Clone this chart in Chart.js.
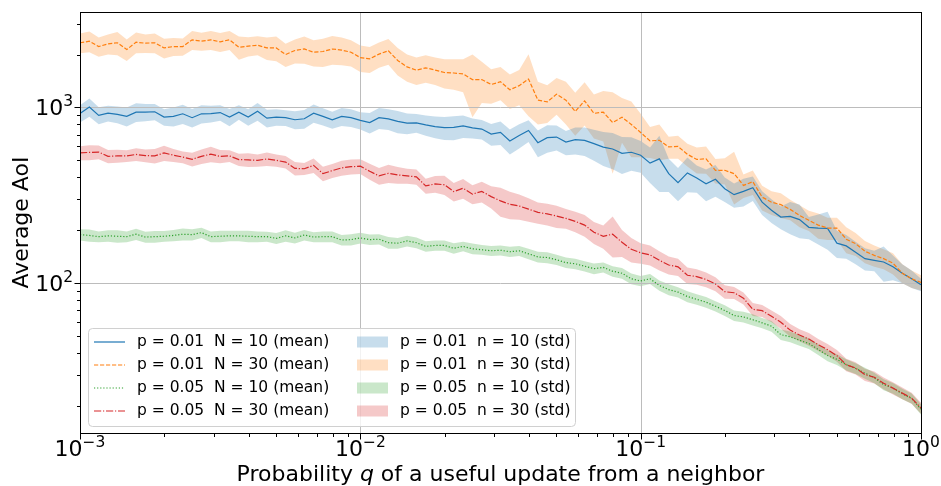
<!DOCTYPE html>
<html>
<head>
<meta charset="utf-8">
<script src="https://cdn.jsdelivr.net/npm/chart.js@4.4.1/dist/chart.umd.min.js"></script>
<style>
  html, body { margin: 0; padding: 0; background: #fff; }
  canvas { display: block; }
</style>
</head>
<body>
<canvas id="aoi" width="941" height="486"></canvas>
<script>
// q values (log spaced, 30 per decade)
var q = [
  0.001, 0.00108, 0.001166, 0.001259, 0.001359, 0.001468, 0.001585, 0.001711, 0.001848, 0.001995,
  0.002154, 0.002326, 0.002512, 0.002712, 0.002929, 0.003162, 0.003415, 0.003687, 0.003981, 0.004299,
  0.004642, 0.005012, 0.005412, 0.005843, 0.00631, 0.006813, 0.007356, 0.007943, 0.008577, 0.009261,
  0.01, 0.0108, 0.01166, 0.01259, 0.01359, 0.01468, 0.01585, 0.01711, 0.01848, 0.01995,
  0.02154, 0.02326, 0.02512, 0.02712, 0.02929, 0.03162, 0.03415, 0.03687, 0.03981, 0.04299,
  0.04642, 0.05012, 0.05412, 0.05843, 0.0631, 0.06813, 0.07356, 0.07943, 0.08577, 0.09261,
  0.1, 0.108, 0.1166, 0.1259, 0.1359, 0.1468, 0.1585, 0.1711, 0.1848, 0.1995,
  0.2154, 0.2326, 0.2512, 0.2712, 0.2929, 0.3162, 0.3415, 0.3687, 0.3981, 0.4299,
  0.4642, 0.5012, 0.5412, 0.5843, 0.631, 0.6813, 0.7356, 0.7943, 0.8577, 0.9261,
  1
];

// p = 0.01, N = 10
var p01n10Mean = [
  925, 1004, 901, 928, 912, 889, 940, 940, 945, 881, 889, 920, 874, 920, 922, 935,
  881, 940, 881, 950, 869, 881, 875, 851, 862, 928, 889, 851, 889, 875, 844,
  820, 874, 860, 833, 814, 817, 795, 777, 768, 770, 785, 765, 753, 705, 722,
  645, 693, 740, 630, 673, 678, 635, 655, 650, 622, 595, 580, 548, 556, 535,
  482, 510, 420, 373, 424, 397, 368, 390, 345, 319, 333, 349, 289, 260, 238,
  240, 230, 208, 206, 205, 169, 163, 150, 138, 135, 132, 124, 114, 106, 98
];
var p01n10Std = [
  105, 120, 100, 95, 100, 110, 115, 105, 100, 95, 110, 115, 105, 110, 100, 95,
  100, 90, 95, 110, 100, 95, 90, 100, 105, 110, 100, 95, 105, 100, 95,
  110, 120, 115, 120, 110, 100, 105, 110, 115, 120, 115, 100, 95, 100, 110,
  105, 110, 105, 110, 120, 110, 100, 115, 120, 125, 130, 135, 130, 120, 110,
  110, 180, 90, 80, 95, 70, 75, 80, 55, 50, 60, 55, 45, 40, 35,
  50, 50, 30, 40, 50, 30, 25, 22, 20, 18, 30, 20, 14, 12, 8
];

// p = 0.01, N = 30
var p01n30Mean = [
  2333, 2380, 2220, 2300, 2333, 2135, 2350, 2320, 2333, 2180, 2220, 2220, 2425, 2380, 2425, 2360,
  2425, 2200, 2230, 2260, 2180, 2180, 2000, 2108, 2150, 2060, 2080, 2150, 2120, 2060, 1920,
  1890, 2010, 2100, 1850, 1700, 1630, 1680, 1630, 1580, 1570, 1550, 1440, 1440, 1350, 1400,
  1260, 1330, 1450, 1100, 1075, 1190, 1100, 950, 1090, 925, 940, 820, 880, 800, 720,
  645, 650, 596, 600, 541, 506, 510, 439, 439, 420, 360, 378, 309, 289, 280,
  263, 243, 228, 214, 206, 206, 178, 168, 152, 144, 138, 130, 114, 106, 101
];
var p01n30Std = [
  300, 320, 280, 300, 350, 300, 320, 280, 300, 280, 260, 250, 300, 280, 300, 290,
  300, 330, 280, 280, 320, 350, 300, 330, 380, 350, 380, 400, 380, 350, 330,
  320, 330, 350, 330, 300, 290, 300, 290, 300, 310, 330, 560, 380, 300, 300,
  280, 300, 560, 300, 260, 280, 300, 260, 300, 260, 300, 400, 250, 280, 200,
  130, 150, 85, 90, 80, 85, 90, 70, 75, 140, 55, 60, 50, 45, 45,
  35, 35, 30, 35, 30, 30, 30, 25, 22, 20, 18, 18, 14, 12, 10
];

// p = 0.05, N = 10
var p05n10Mean = [
  189, 187, 184, 186, 185, 184, 190, 183, 184, 185, 187, 190, 189, 194, 184, 185,
  186, 186, 185, 184, 184, 180, 186, 181, 188, 183, 184, 184, 176, 177, 181,
  177, 178, 170, 169, 174, 170, 162, 164, 164, 158, 162, 157, 155, 153, 154,
  151, 153, 147, 141, 140, 136, 131, 129, 125, 121, 123, 117, 114, 106, 103,
  106, 97, 92, 89, 84, 81, 78, 74, 70, 65.5, 64.3, 62, 59.5, 57, 51,
  49.6, 47.4, 45.4, 42, 38.8, 36.9, 34.4, 32.8, 30.8, 29, 26.5, 25.3, 23.5, 22.1, 19.2
];
var p05n10Std = [
  14, 15, 13, 14, 15, 13, 14, 13, 14, 13, 14, 15, 14, 13, 13, 14,
  13, 13, 14, 13, 12, 13, 14, 13, 13, 12, 13, 13, 12, 13, 13,
  12, 12, 13, 12, 12, 12, 11, 11, 11, 11, 10, 11, 10, 10, 10,
  10, 10, 10, 10, 10, 9, 9, 9, 8.5, 8.5, 8, 8, 8, 7.5, 7,
  7, 6.5, 6.5, 6, 6, 5.5, 5.5, 5, 5, 4.5, 4.5, 4.5, 4, 4, 3.5,
  3.5, 3.3, 3.2, 3, 2.8, 2.6, 2.5, 2.3, 2.2, 2, 1.9, 1.8, 1.6, 1.5, 1.3
];

// p = 0.05, N = 30
var p05n30Mean = [
  551, 555, 557, 527, 530, 530, 540, 532, 530, 551, 535, 522, 507, 527, 542, 527,
  530, 505, 503, 500, 509, 500, 489, 450, 448, 468, 420, 437, 453, 460, 463,
  433, 408, 422, 413, 408, 403, 358, 367, 363, 332, 347, 321, 333, 311, 294,
  281, 275, 264, 253, 248, 241, 234, 225, 214, 195, 185, 190, 171, 156, 149,
  145, 135, 127, 124, 111, 109, 105, 99, 89.5, 88.3, 82.2, 71.1, 69.8, 64.9, 60,
  54.1, 50.7, 48.1, 44.7, 41.9, 38.7, 34.4, 32.9, 30.2, 29.2, 27, 25.3, 23.7, 22.2, 19.5
];
var p05n30Std = [
  50, 55, 50, 45, 45, 40, 45, 45, 50, 55, 45, 40, 45, 50, 55, 45,
  40, 40, 45, 40, 45, 40, 40, 40, 35, 45, 40, 40, 45, 45, 45,
  45, 45, 50, 45, 40, 40, 35, 40, 45, 40, 45, 40, 45, 45, 55,
  50, 45, 40, 35, 35, 35, 30, 30, 30, 28, 28, 50, 30, 25, 20,
  19, 17, 15, 14, 12, 11, 10, 9, 8, 7, 6.5, 6, 5.5, 5, 5,
  4.5, 4, 4, 3.5, 3.2, 3, 2.8, 2.6, 2.4, 2.3, 2.1, 2, 1.8, 1.6, 1.4
];

var meanLabels = [
  "p = 0.01  N = 10 (mean)",
  "p = 0.01  N = 30 (mean)",
  "p = 0.05  N = 10 (mean)",
  "p = 0.05  N = 30 (mean)"
];
var stdLabels = [
  "p = 0.01  n = 10 (std)",
  "p = 0.01  n = 30 (std)",
  "p = 0.05  n = 10 (std)",
  "p = 0.05  n = 30 (std)"
];
var xTickExp = [-3, -2, -1, 0];
var yTickExp = [2, 3];
var xTitle = ["Probability ", "q", " of a useful update from a neighbor"];
var yTitle = "Average AoI";

var FONT = "'DejaVu Sans'";

var series = [
  { mean: p01n10Mean, std: p01n10Std, color: "#1f77b4", rgb: "31,119,180", dash: [] },
  { mean: p01n30Mean, std: p01n30Std, color: "#ff7f0e", rgb: "255,127,14", dash: [4.2, 1.8] },
  { mean: p05n10Mean, std: p05n10Std, color: "#2ca02c", rgb: "44,160,44", dash: [1.2, 1.9] },
  { mean: p05n30Mean, std: p05n30Std, color: "#d62728", rgb: "214,39,40", dash: [7.2, 1.8, 1.2, 1.8] }
];

function points(mean, std, sign) {
  return q.map(function (x, i) {
    return { x: x, y: mean[i] + sign * std[i] };
  });
}

var datasets = [];
series.forEach(function (s, k) {
  datasets.push({
    data: points(s.mean, s.std, -1),
    borderColor: "rgba(0,0,0,0)",
    borderWidth: 0,
    pointRadius: 0,
    fill: false,
    order: 10 + k,
  });
  datasets.push({
    data: points(s.mean, s.std, 1),
    borderColor: "rgba(0,0,0,0)",
    borderWidth: 0,
    pointRadius: 0,
    backgroundColor: "rgba(" + s.rgb + ",0.25)",
    fill: "-1",
    order: 10 + k,
  });
});
series.forEach(function (s, k) {
  datasets.push({
    data: points(s.mean, s.std, 0),
    borderColor: s.color,
    borderWidth: 1.2,
    borderDash: s.dash,
    pointRadius: 0,
    fill: false,
    tension: 0,
    order: 3 - k,
  });
});

function drawPow(ctx, exp, x, y, align) {
  var base = "10";
  var sup = exp < 0 ? "\u2212" + -exp : String(exp);
  ctx.font = "22px " + FONT;
  var wb = ctx.measureText(base).width;
  ctx.font = "15.5px " + FONT;
  var ws = ctx.measureText(sup).width;
  var left = align === "center" ? x - (wb + ws) / 2 : x - wb - ws;
  ctx.textAlign = "left";
  ctx.textBaseline = "alphabetic";
  ctx.fillStyle = "#000";
  ctx.font = "22px " + FONT;
  ctx.fillText(base, left, y);
  ctx.font = "15.5px " + FONT;
  ctx.fillText(sup, left + wb, y - 9);
}

function drawGrid(chart) {
  var ctx = chart.ctx;
  var a = chart.chartArea;
  var sx = chart.scales.x;
  var sy = chart.scales.y;
  ctx.save();
  ctx.strokeStyle = "#bcbcbc";
  ctx.lineWidth = 1;
  ctx.beginPath();
  xTickExp.forEach(function (e) {
    var px = Math.round(sx.getPixelForValue(Math.pow(10, e))) + 0.5;
    ctx.moveTo(px, a.top);
    ctx.lineTo(px, a.bottom);
  });
  yTickExp.forEach(function (e) {
    var py = Math.round(sy.getPixelForValue(Math.pow(10, e))) + 0.5;
    ctx.moveTo(a.left, py);
    ctx.lineTo(a.right, py);
  });
  ctx.stroke();
  ctx.restore();
}

function drawAxes(chart) {
  var ctx = chart.ctx;
  var a = chart.chartArea;
  var sx = chart.scales.x;
  var sy = chart.scales.y;
  ctx.save();

  // frame
  ctx.strokeStyle = "#000";
  ctx.lineWidth = 1;
  var l = Math.round(a.left) + 0.5, r = Math.round(a.right) + 0.5;
  var t = Math.round(a.top) + 0.5, b = Math.round(a.bottom) + 0.5;
  ctx.strokeRect(l, t, r - l, b - t);

  // ticks
  ctx.beginPath();
  for (var e = -3; e <= 0; e++) {
    var px = Math.round(sx.getPixelForValue(Math.pow(10, e))) + 0.5;
    ctx.moveTo(px, b);
    ctx.lineTo(px, b + 6);
    if (e < 0) {
      for (var m = 2; m <= 9; m++) {
        var mx = Math.round(sx.getPixelForValue(m * Math.pow(10, e))) + 0.5;
        ctx.moveTo(mx, b);
        ctx.lineTo(mx, b + 3.5);
      }
    }
  }
  for (var ey = 1; ey <= 3; ey++) {
    for (var my = 1; my <= 9; my++) {
      var v = my * Math.pow(10, ey);
      if (v < sy.min || v > sy.max) continue;
      var py = Math.round(sy.getPixelForValue(v)) + 0.5;
      ctx.moveTo(l, py);
      ctx.lineTo(l - (my === 1 ? 6 : 3.5), py);
    }
  }
  ctx.stroke();

  // tick labels
  xTickExp.forEach(function (e) {
    drawPow(ctx, e, sx.getPixelForValue(Math.pow(10, e)), 456, "center");
  });
  yTickExp.forEach(function (e) {
    drawPow(ctx, e, 73, sy.getPixelForValue(Math.pow(10, e)) + 8, "right");
  });

  // x title
  ctx.fillStyle = "#000";
  ctx.textBaseline = "alphabetic";
  ctx.textAlign = "left";
  ctx.font = "22px " + FONT;
  var w0 = ctx.measureText(xTitle[0]).width;
  var w2 = ctx.measureText(xTitle[2]).width;
  ctx.font = "italic 22px " + FONT;
  var w1 = ctx.measureText(xTitle[1]).width;
  var x0 = (a.left + a.right) / 2 - (w0 + w1 + w2) / 2;
  ctx.font = "22px " + FONT;
  ctx.fillText(xTitle[0], x0, 481);
  ctx.font = "italic 22px " + FONT;
  ctx.fillText(xTitle[1], x0 + w0, 481);
  ctx.font = "22px " + FONT;
  ctx.fillText(xTitle[2], x0 + w0 + w1, 481);

  // y title
  ctx.save();
  ctx.translate(27.5, (a.top + a.bottom) / 2);
  ctx.rotate(-Math.PI / 2);
  ctx.textAlign = "center";
  ctx.fillText(yTitle, 0, 0);
  ctx.restore();

  ctx.restore();
}

function drawLegend(chart) {
  var ctx = chart.ctx;
  ctx.save();
  // box
  var bx = 88.5, by = 328.5, bw = 487, bh = 98, rr = 4;
  ctx.beginPath();
  ctx.moveTo(bx + rr, by);
  ctx.arcTo(bx + bw, by, bx + bw, by + bh, rr);
  ctx.arcTo(bx + bw, by + bh, bx, by + bh, rr);
  ctx.arcTo(bx, by + bh, bx, by, rr);
  ctx.arcTo(bx, by, bx + bw, by, rr);
  ctx.closePath();
  ctx.fillStyle = "rgba(255,255,255,0.8)";
  ctx.fill();
  ctx.strokeStyle = "#d0d0d0";
  ctx.lineWidth = 1;
  ctx.stroke();

  var rows = [342, 365, 388, 411];
  ctx.font = "15.5px " + FONT;
  ctx.textBaseline = "middle";
  ctx.textAlign = "left";
  series.forEach(function (s, k) {
    var cy = rows[k];
    ctx.strokeStyle = s.color;
    ctx.lineWidth = 1.2;
    ctx.setLineDash(s.dash);
    ctx.beginPath();
    ctx.moveTo(94, cy);
    ctx.lineTo(125, cy);
    ctx.stroke();
    ctx.setLineDash([]);
    ctx.fillStyle = "#000";
    ctx.fillText(meanLabels[k], 137, cy);

    ctx.fillStyle = "rgba(" + s.rgb + ",0.25)";
    ctx.fillRect(357, cy - 5.5, 31, 11);
    ctx.fillStyle = "#000";
    ctx.fillText(stdLabels[k], 400, cy);
  });
  ctx.restore();
}

var axesPlugin = {
  id: "axesPlugin",
  beforeDraw: function (chart) {
    chart.$gridDone = false;
  },
  beforeDatasetDraw: function (chart, args) {
    if (!chart.$gridDone && chart.data.datasets[args.index].order < 10) {
      drawGrid(chart);
      chart.$gridDone = true;
    }
  },
  afterDraw: function (chart) {
    drawAxes(chart);
    drawLegend(chart);
  },
};

var aoiChart = new Chart(document.getElementById("aoi").getContext("2d"), {
  type: "line",
  data: { datasets: datasets },
  options: {
    responsive: false,
    animation: false,
    devicePixelRatio: 1,
    layout: {
      padding: { left: 80, top: 12, right: 20, bottom: 53 },
    },
    plugins: {
      legend: { display: false },
      tooltip: { enabled: false },
    },
    scales: {
      x: { type: "logarithmic", min: 0.001, max: 1, display: false },
      y: { type: "logarithmic", min: 14.06, max: 3490, display: false },
    },
  },
  plugins: [axesPlugin],
});
</script>
</body>
</html>
